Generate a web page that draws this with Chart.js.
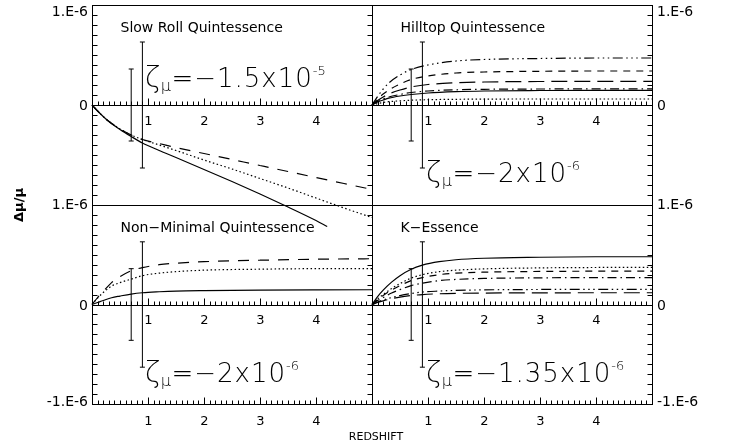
<!DOCTYPE html>
<html>
<head>
<meta charset="utf-8">
<script src="https://cdn.jsdelivr.net/npm/chart.js@4/dist/chart.umd.min.js"></script>
<style>
  html, body { margin: 0; padding: 0; background: #fff; }
  #wrap { position: relative; width: 732px; height: 447px; overflow: hidden; }
  #wrap canvas { position: absolute; left: 0; top: 0; }
</style>
</head>
<body>
<div id="wrap">
  <canvas id="c1" width="732" height="447"></canvas>
  <canvas id="c2" width="732" height="447"></canvas>
  <canvas id="c3" width="732" height="447"></canvas>
  <canvas id="c4" width="732" height="447"></canvas>
</div>
<script>
// ---------------- DATA ----------------
const xTickValues = [1, 2, 3, 4];
const xTickLabels = ['1', '2', '3', '4'];
const yTickValues = [-1e-6, 0, 1e-6];
const yTickLabels = ['-1.E-6', '0', '1.E-6'];
const xAxisTitle = 'REDSHIFT';
const yAxisTitle = 'Δμ/μ';
const panelTitles = ['Slow Roll Quintessence', 'Hilltop Quintessence', 'Non\u2212Minimal Quintessence', 'K\u2212Essence'];
const zetaMantissas = ['\u22121.5x10', '\u22122x10', '\u22122x10', '\u22121.35x10'];
const zetaExponents = ['-5', '-6', '-6', '-6'];

// error bars (same in every panel): redshift and half-height
const errorBarZ = [0.7, 0.9];
const errorBarHalf = [0.36e-6, 0.63e-6];

// Slow Roll Quintessence
const slowRollZ = [0, 0.1, 0.2, 0.3, 0.5, 0.7, 0.9, 1.2, 1.5, 2, 2.5, 3, 3.5, 4, 4.5, 5];
const slowRollSolidZ = [0, 0.1, 0.2, 0.3, 0.5, 0.7, 0.9, 1.2, 1.5, 2, 2.5, 3, 3.5, 4, 4.2];
const slowRollSolid = [0, -0.06e-6, -0.115e-6, -0.165e-6, -0.245e-6, -0.315e-6, -0.38e-6, -0.455e-6, -0.525e-6, -0.645e-6, -0.765e-6, -0.89e-6, -1.02e-6, -1.155e-6, -1.215e-6];
const slowRollDashed = [0, -0.06e-6, -0.115e-6, -0.163e-6, -0.24e-6, -0.3e-6, -0.345e-6, -0.385e-6, -0.425e-6, -0.485e-6, -0.545e-6, -0.605e-6, -0.665e-6, -0.725e-6, -0.785e-6, -0.845e-6];
const slowRollDotted = [0, -0.06e-6, -0.115e-6, -0.163e-6, -0.24e-6, -0.3e-6, -0.345e-6, -0.4e-6, -0.455e-6, -0.55e-6, -0.64e-6, -0.735e-6, -0.83e-6, -0.93e-6, -1.03e-6, -1.125e-6];

// Hilltop Quintessence
const hilltopZ = [0, 0.1, 0.2, 0.3, 0.5, 0.7, 1, 1.5, 2, 3, 4, 5];
const hilltopDash3Dot = [0, 0.085e-6, 0.16e-6, 0.22e-6, 0.30e-6, 0.355e-6, 0.40e-6, 0.44e-6, 0.455e-6, 0.465e-6, 0.47e-6, 0.47e-6];
const hilltopDashed = [0, 0.06e-6, 0.11e-6, 0.15e-6, 0.21e-6, 0.255e-6, 0.29e-6, 0.32e-6, 0.33e-6, 0.337e-6, 0.34e-6, 0.34e-6];
const hilltopLongDash = [0, 0.045e-6, 0.08e-6, 0.11e-6, 0.15e-6, 0.18e-6, 0.205e-6, 0.222e-6, 0.23e-6, 0.235e-6, 0.236e-6, 0.236e-6];
const hilltopDashDot = [0, 0.035e-6, 0.06e-6, 0.08e-6, 0.105e-6, 0.125e-6, 0.14e-6, 0.152e-6, 0.157e-6, 0.16e-6, 0.161e-6, 0.161e-6];
const hilltopSolid = [0, 0.03e-6, 0.05e-6, 0.068e-6, 0.09e-6, 0.105e-6, 0.12e-6, 0.133e-6, 0.14e-6, 0.145e-6, 0.147e-6, 0.147e-6];
const hilltopDotted = [0, 0.015e-6, 0.025e-6, 0.033e-6, 0.042e-6, 0.048e-6, 0.053e-6, 0.057e-6, 0.059e-6, 0.06e-6, 0.06e-6, 0.06e-6];

// Non-Minimal Quintessence
const nonMinZ = [0, 0.1, 0.2, 0.35, 0.5, 0.7, 0.9, 1.2, 1.5, 2, 3, 4, 5];
const nonMinDashed = [0, 0.07e-6, 0.13e-6, 0.22e-6, 0.28e-6, 0.34e-6, 0.37e-6, 0.40e-6, 0.415e-6, 0.43e-6, 0.445e-6, 0.455e-6, 0.46e-6];
const nonMinDotted = [0, 0.065e-6, 0.12e-6, 0.185e-6, 0.22e-6, 0.255e-6, 0.29e-6, 0.315e-6, 0.33e-6, 0.345e-6, 0.355e-6, 0.36e-6, 0.36e-6];
const nonMinSolid = [0, 0.02e-6, 0.04e-6, 0.068e-6, 0.085e-6, 0.105e-6, 0.118e-6, 0.128e-6, 0.135e-6, 0.14e-6, 0.145e-6, 0.147e-6, 0.148e-6];

// K-Essence
const kEssZ = [0, 0.1, 0.2, 0.35, 0.5, 0.7, 0.9, 1.2, 1.5, 2, 3, 4, 5];
const kEssSolid = [0, 0.08e-6, 0.145e-6, 0.225e-6, 0.29e-6, 0.355e-6, 0.395e-6, 0.43e-6, 0.45e-6, 0.465e-6, 0.475e-6, 0.48e-6, 0.48e-6];
const kEssDotted = [0, 0.055e-6, 0.1e-6, 0.16e-6, 0.21e-6, 0.265e-6, 0.3e-6, 0.33e-6, 0.345e-6, 0.358e-6, 0.368e-6, 0.372e-6, 0.374e-6];
const kEssDashed = [0, 0.05e-6, 0.09e-6, 0.145e-6, 0.19e-6, 0.24e-6, 0.27e-6, 0.3e-6, 0.315e-6, 0.325e-6, 0.332e-6, 0.335e-6, 0.336e-6];
const kEssDashDot = [0, 0.04e-6, 0.07e-6, 0.115e-6, 0.15e-6, 0.19e-6, 0.215e-6, 0.24e-6, 0.252e-6, 0.262e-6, 0.268e-6, 0.27e-6, 0.27e-6];
const kEssDash3Dot = [0, 0.025e-6, 0.045e-6, 0.07e-6, 0.09e-6, 0.11e-6, 0.125e-6, 0.135e-6, 0.142e-6, 0.147e-6, 0.151e-6, 0.153e-6, 0.153e-6];
const kEssLongDash = [0, 0.02e-6, 0.037e-6, 0.058e-6, 0.075e-6, 0.09e-6, 0.1e-6, 0.108e-6, 0.112e-6, 0.115e-6, 0.117e-6, 0.118e-6, 0.118e-6];

// ---------------- STYLES / LAYOUT ----------------
const W = 732, H = 447;
const colEdges = [92, 372, 652];
const rowEdges = [5, 205, 404];
const SOLID = [], DOT = [1.5, 2.5], DASH = [11, 9], SHORTDASH = [7, 6],
      DASHDOT = [9, 4, 1.5, 4], DASH3DOT = [10, 3.5, 1.5, 3.5, 1.5, 3.5, 1.5, 3.5], LONGDASH = [16, 7];
const FONT = '"DejaVu Sans", "Liberation Sans", sans-serif';

const panels = [
  { id: 'c1', col: 0, row: 0, zetaX: 145, zetaBase: 87,
    series: [[slowRollSolidZ, slowRollSolid, SOLID], [slowRollZ, slowRollDashed, DASH], [slowRollZ, slowRollDotted, DOT]] },
  { id: 'c2', col: 1, row: 0, zetaX: 426, zetaBase: 182,
    series: [[hilltopZ, hilltopDash3Dot, DASH3DOT], [hilltopZ, hilltopDashed, SHORTDASH], [hilltopZ, hilltopLongDash, LONGDASH],
             [hilltopZ, hilltopDashDot, DASHDOT], [hilltopZ, hilltopSolid, SOLID], [hilltopZ, hilltopDotted, DOT]] },
  { id: 'c3', col: 0, row: 1, zetaX: 145, zetaBase: 381.5,
    series: [[nonMinZ, nonMinDashed, DASH], [nonMinZ, nonMinDotted, DOT], [nonMinZ, nonMinSolid, SOLID]] },
  { id: 'c4', col: 1, row: 1, zetaX: 426, zetaBase: 381.5,
    series: [[kEssZ, kEssSolid, SOLID], [kEssZ, kEssDotted, DOT], [kEssZ, kEssDashed, SHORTDASH],
             [kEssZ, kEssDashDot, DASHDOT], [kEssZ, kEssDash3Dot, DASH3DOT], [kEssZ, kEssLongDash, LONGDASH]] }
];

function hp(v) { return Math.round(v) + 0.5; }
function seg(ctx, x1, y1, x2, y2) { ctx.beginPath(); ctx.moveTo(x1, y1); ctx.lineTo(x2, y2); ctx.stroke(); }

function framePlugin(p, idx) {
  return {
    id: 'frame' + idx,
    afterDraw(chart) {
      const ctx = chart.ctx;
      const xs = chart.scales.x, ys = chart.scales.y;
      const { left, right, top, bottom } = chart.chartArea;
      ctx.save();
      ctx.setLineDash([]);
      ctx.strokeStyle = '#000'; ctx.fillStyle = '#000'; ctx.lineWidth = 1;
      // frame
      ctx.strokeRect(hp(left), hp(top), Math.round(right) - Math.round(left), Math.round(bottom) - Math.round(top));
      // zero line
      const z0 = hp(ys.getPixelForValue(0));
      seg(ctx, left, z0, right, z0);
      // x ticks (on zero line and on the bottom edge for the lower row)
      const rows = p.row === 1 ? [z0, hp(bottom)] : [z0];
      for (const yy of rows) {
        for (let i = 1; i < 50; i++) {
          const px = hp(xs.getPixelForValue(i / 10));
          seg(ctx, px, yy, px, yy - (i % 10 === 0 ? 7 : 4));
        }
      }
      // y ticks (inward)
      for (let k = -9; k <= 9; k++) {
        const py = hp(ys.getPixelForValue(k * 1e-7));
        if (p.col === 0) seg(ctx, hp(left), py, hp(left) + 5, py);
        seg(ctx, hp(right), py, hp(right) - 5, py);
      }
      // x tick labels
      ctx.font = '13px ' + FONT;
      ctx.textAlign = 'center'; ctx.textBaseline = 'middle';
      for (let i = 0; i < xTickValues.length; i++) {
        const px = xs.getPixelForValue(xTickValues[i]);
        ctx.fillText(xTickLabels[i], px + 0.5, ys.getPixelForValue(0) + 16.5);
        if (p.row === 1) ctx.fillText(xTickLabels[i], px + 0.5, bottom + 18);
      }
      // y tick labels
      ctx.font = '14px ' + FONT;
      ctx.textAlign = p.col === 0 ? 'right' : 'left';
      const lx = p.col === 0 ? left - 4 : right + 5;
      for (let i = 0; i < yTickValues.length; i++) {
        const v = yTickValues[i];
        if (p.row === 0 && v < 0) continue;
        let py = ys.getPixelForValue(v);
        if (v === 0) py += 1.5;
        if (py < 12.5) py = 12.5;
        if (py > H - 50) py = bottom - 2;
        ctx.fillText(yTickLabels[i], lx, py);
      }
      // panel title
      ctx.font = '14px ' + FONT;
      ctx.textAlign = 'left'; ctx.textBaseline = 'alphabetic';
      ctx.fillText(panelTitles[idx], left + 28.5, top + 26.5);
      // zeta annotation
      let x = p.zetaX; const b = p.zetaBase;
      ctx.font = '200 28px ' + FONT;
      ctx.fillText('ζ', x, b);
      x += ctx.measureText('ζ').width + 0.5;
      ctx.font = '200 16px ' + FONT;
      ctx.fillText('μ', x, b + 4);
      x += ctx.measureText('μ').width + 0.5;
      ctx.font = '200 26px ' + FONT;
      ctx.letterSpacing = '1px';
      const main = '=' + zetaMantissas[idx];
      ctx.fillText(main, x, b);
      x += ctx.measureText(main).width;
      ctx.letterSpacing = '0px';
      ctx.font = '200 13px ' + FONT;
      ctx.fillText(zetaExponents[idx], x, b - 12);
      // global axis titles
      if (idx === 2) {
        ctx.font = '11px ' + FONT;
        ctx.textAlign = 'center'; ctx.textBaseline = 'middle';
        ctx.fillText(xAxisTitle, 376, 437.5);
        ctx.save();
        ctx.translate(20, 205);
        ctx.rotate(-Math.PI / 2);
        ctx.font = 'bold 13px ' + FONT;
        ctx.fillText(yAxisTitle, 0, 0);
        ctx.restore();
      }
      ctx.restore();
    }
  };
}

panels.forEach((p, idx) => {
  const datasets = p.series.map(([zs, vs, dash]) => ({
    data: zs.map((z, i) => ({ x: z, y: vs[i] })),
    showLine: true, borderColor: '#000', borderWidth: 1.2, borderDash: dash,
    pointRadius: 0, cubicInterpolationMode: 'monotone', clip: false, fill: false
  }));
  errorBarZ.forEach((z, i) => {
    datasets.push({
      data: [{ x: z, y: -errorBarHalf[i] }, { x: z, y: errorBarHalf[i] }],
      showLine: true, borderColor: '#000', borderWidth: 1, borderDash: [],
      pointStyle: 'line', pointRadius: 2.5, pointBorderWidth: 1, pointBorderColor: '#000',
      pointBackgroundColor: '#000', clip: false
    });
  });
  const left = colEdges[p.col], right = colEdges[p.col + 1];
  const top = rowEdges[p.row], bottom = rowEdges[p.row + 1];
  new Chart(document.getElementById(p.id), {
    type: 'scatter',
    data: { datasets },
    options: {
      responsive: false, animation: false, devicePixelRatio: 1,
      layout: { padding: { left: left, top: top, right: W - right, bottom: H - bottom } },
      scales: {
        x: { type: 'linear', min: 0, max: 5, display: false },
        y: { type: 'linear', min: -1e-6, max: 1e-6, display: false }
      },
      plugins: { legend: { display: false }, tooltip: { enabled: false } },
      events: []
    },
    plugins: [framePlugin(p, idx)]
  });
});
</script>
</body>
</html>
